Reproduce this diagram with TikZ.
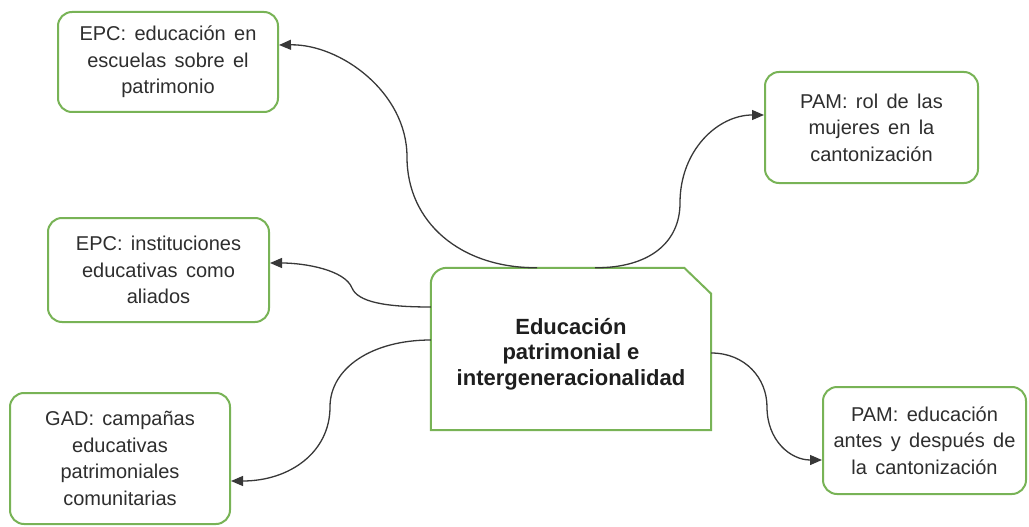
\documentclass[tikz,border=0pt]{standalone}
\usepackage{fontspec}
\setmainfont{Liberation Sans}
\usetikzlibrary{calc,arrows.meta}
\definecolor{boxgreen}{HTML}{78B356}
\definecolor{txtgray}{HTML}{2E2E2E}
\definecolor{linegray}{HTML}{383838}
\definecolor{maintxt}{HTML}{1E1E1E}
\newcommand\leaffont{\fontsize{20pt}{26.5pt}\selectfont\spaceskip 0.42em\relax}
\tikzset{
  leaf/.style={draw=boxgreen, line width=2pt, rounded corners=14pt, fill=white,
    text=txtgray, align=center, inner sep=0pt, font=\leaffont},
  conn/.style={draw=linegray, line width=1.3pt, -{Triangle[length=12pt,width=10pt]}},
}
\begin{document}
\begin{tikzpicture}[x=1pt,y=-1pt]
\useasboundingbox (0,0) rectangle (1029,527);

% central node
\node[minimum width=280pt, minimum height=162pt, inner sep=0pt] (c) at (571,349) {};
\draw[boxgreen, line width=2pt, fill=white]
  (c.south west) -- ($(c.north west)+(0,16)$) arc[start angle=180, end angle=90, radius=16pt]
  -- ($(c.north east)+(-27,0)$) -- ($(c.north east)+(0,26)$) -- (c.south east) -- cycle;
\node[align=center, text=maintxt, font=\fontsize{22pt}{25.5pt}\selectfont\bfseries] (ct) at (571,354)
  {Educación\\patrimonial e\\intergeneracionalidad};

% leaves
\node[leaf, minimum width=220pt, minimum height=100pt] (e1) at (168,62)
  {EPC: educación en\\escuelas sobre el\\patrimonio};
\node[leaf, minimum width=213pt, minimum height=111pt] (p1) at (871.5,127.5)
  {PAM: rol de las\\mujeres en la\\cantonización};
\node[leaf, minimum width=221pt, minimum height=104pt] (e2) at (158.5,270)
  {EPC: instituciones\\educativas como\\aliados};
\node[leaf, minimum width=220pt, minimum height=131pt] (g) at (120,458.5)
  {GAD: campañas\\educativas\\patrimoniales\\comunitarias};
\node[leaf, minimum width=203pt, minimum height=107pt] (p2) at (924.5,440.5)
  {PAM: educación\\antes y después de\\la cantonización};

% connector endpoints
\coordinate (s1) at ($(c.north)+(-34,0)$);
\coordinate (s2) at ($(c.north)+(24,0)$);
\coordinate (s3) at ($(c.west)+(0,-42)$);
\coordinate (s4) at ($(c.west)+(0,-9)$);
\coordinate (s5) at ($(c.east)+(0,4)$);
\coordinate (t1) at ($(e1.east)+(0,-17)$);
\coordinate (t2) at ($(p1.west)+(0,-12.5)$);
\coordinate (t3) at ($(e2.east)+(0,-7)$);
\coordinate (t4) at ($(g.east)+(0,22.5)$);
\coordinate (t5) at ($(p2.west)+(0,19.5)$);

\draw[conn] (s1) .. controls (460,268) and (407,222) .. (407,157)
  .. controls (407,92) and (340,44) .. (t1);
\draw[conn] (s2) .. controls (650,268) and (680,242) .. (680,203)
  .. controls (680,150) and (718,115) .. (t2);
\draw[conn] (s3) .. controls (385,307) and (358,302) .. (352,288)
  .. controls (345,270) and (305,263) .. (t3);
\draw[conn] (s4) .. controls (372,340) and (330,368) .. (330,407)
  .. controls (330,452) and (290,481) .. (t4);
\draw[conn] (s5) .. controls (745,353) and (767,378) .. (767,407)
  .. controls (767,440) and (790,460) .. (t5);
\end{tikzpicture}
\end{document}
